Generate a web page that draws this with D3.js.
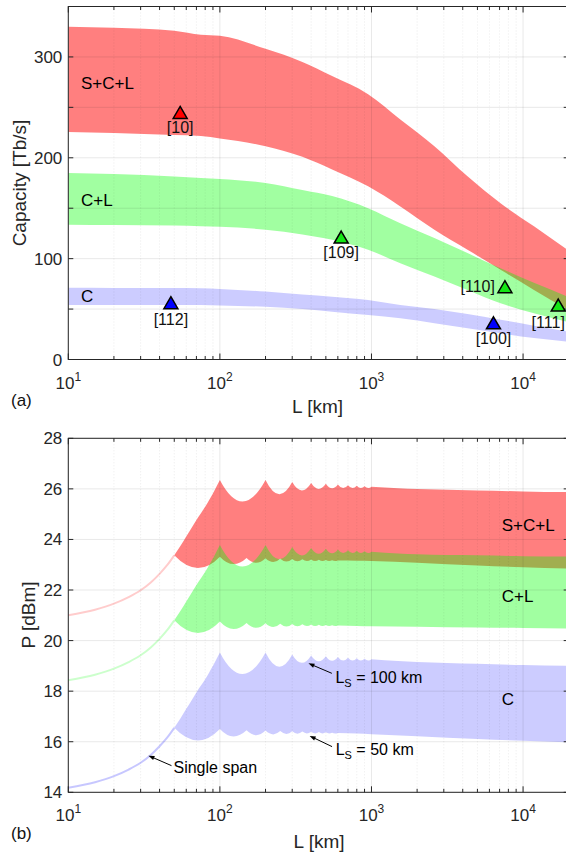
<!DOCTYPE html>
<html><head><meta charset="utf-8">
<script src="https://cdn.jsdelivr.net/npm/d3@7"></script>
<style>body{margin:0;background:#fff}svg{display:block;font-family:"Liberation Sans",Arial,Helvetica,sans-serif}</style>
</head><body><svg id="c" width="566" height="852"></svg>
<script>
// ---------- DATA: panel (a) capacity bands ----------
const capL      = [10,20,50,75,100,200,350,550,950,1550,2600,4300,7100,11800,20000];
const capSCL_hi = [330,329,326,322,321,308,295,281,263,238,211.5,181.7,155,132,108];
const capSCL_lo = [225.5,224.5,222.5,221.5,219,211.5,201,188.4,171.7,151.8,128.7,108.8,89,69,49];
const capCL_hi  = [185,184,181.5,180,179,175,168,162,150,135,120.4,105.5,90.5,76,62];
const capCL_lo  = [133.6,133.3,132.8,132,131.5,128.7,124,118.7,108.8,95.5,82.2,69,55.7,45.8,37];
const capC_hi   = [71.2,71,70.8,70.6,70,67.3,64.5,62.3,59,54,50,45,39.5,33.5,27.5];
const capC_lo   = [54,54,54,54,53.5,52.3,50,47.4,44,40.8,36,31,26,21.3,17.5];
// reference points
const refLabels = ["[10]","[112]","[109]","[110]","[100]","[111]"];
const refBand   = ["SCL","C","CL","CL","C","CL"];
const refL      = [54.7,47.5,631,7590,6380,17060];
const refCap    = [245,56.3,121.4,72.2,36.4,54];

// ---------- DATA: panel (b) power bands ----------
const ssL   = [10,15,20,25,30,35,40,45,50,55,60,65,70,75,80,85,90,95,100];
const ssSCL = [21.0,21.22,21.46,21.72,21.99,22.3,22.64,22.99,23.37,23.75,24.12,24.45,24.77,25.04,25.29,25.56,25.82,26.09,26.35];
const ssCL  = [18.43,18.65,18.89,19.15,19.42,19.73,20.07,20.42,20.8,21.18,21.55,21.88,22.2,22.47,22.72,22.99,23.25,23.52,23.78];
const ssC   = [14.18,14.4,14.64,14.9,15.17,15.48,15.82,16.17,16.55,16.93,17.3,17.63,17.95,18.22,18.47,18.74,19.0,19.27,19.53];
// upper edge, LS = 100 km (c = cusp, d = dip, s = smooth)
const upL    = [141,200,245,300,346,400,447,500,548,600,648,700,748,800,849,900,949,1000,1500,2000,5000,10000,20000];
const upKind = ["d","c","d","c","d","c","d","c","d","c","d","c","d","c","d","c","d","c","s","s","s","s","s"];
const upSCL  = [25.5,26.35,25.79,26.27,25.94,26.23,26.0,26.2,26.02,26.17,26.03,26.14,26.03,26.12,26.03,26.1,26.03,26.08,26.02,25.99,25.94,25.9,25.87];
const upCL   = [22.93,23.78,23.22,23.7,23.37,23.66,23.43,23.63,23.45,23.6,23.46,23.57,23.46,23.55,23.46,23.53,23.46,23.51,23.44,23.41,23.37,23.34,23.32];
const upC    = [18.68,19.53,18.97,19.45,19.12,19.41,19.18,19.38,19.2,19.35,19.21,19.32,19.21,19.3,19.21,19.28,19.21,19.26,19.19,19.15,19.08,19.03,19.0];
// lower edge, LS = 50 km
const loL    = [50,71,100,122,150,173,200,224,250,274,300,324,350,374,400,424,450,474,500,524,550,574,600,800,1000,2000,5000,10000,20000];
const loKind = ["s","d","c","d","c","d","c","d","c","d","c","d","c","d","c","d","c","d","c","d","c","d","c","s","s","s","s","s","s"];
const loSCL  = [23.37,22.87,23.32,23.03,23.27,23.08,23.26,23.11,23.24,23.13,23.23,23.14,23.22,23.15,23.21,23.15,23.2,23.15,23.19,23.15,23.18,23.15,23.17,23.16,23.15,23.08,22.97,22.9,22.85];
const loCL   = [20.8,20.3,20.75,20.46,20.7,20.51,20.69,20.54,20.67,20.56,20.66,20.57,20.65,20.58,20.64,20.58,20.63,20.58,20.62,20.58,20.61,20.58,20.6,20.58,20.57,20.55,20.52,20.5,20.48];
const loC    = [16.55,16.05,16.5,16.21,16.45,16.26,16.44,16.29,16.42,16.31,16.41,16.32,16.4,16.33,16.39,16.33,16.38,16.33,16.37,16.33,16.36,16.33,16.35,16.33,16.3,16.22,16.11,16.04,15.98];

// ---------- axes ticks ----------
const xDecadeExp = [1,2,3,4];
const capTickVals = [0,50,100,150,200,250,300,350];
const capTickLabels = [0,100,200,300];
const powTickVals = [14,16,18,20,22,24,26,28];

// ---------- STYLE / LAYOUT ----------
const FILL = {SCL:"#ff0000", CL:"#00ff00", C:"#0000ff"};
const FOP  = {SCL:0.5, CL:0.37, C:0.2};
const MARK = {SCL:"#ff0000", CL:"#14e614", C:"#0000ff"};
const TXT = "#262626";
const refLayout = {
  "[10]":{dx:0,dy:21,a:"middle"}, "[112]":{dx:0,dy:22,a:"middle"}, "[109]":{dx:0,dy:21,a:"middle"},
  "[110]":{dx:-10,dy:5,a:"end"}, "[100]":{dx:0,dy:21.5,a:"middle"}, "[111]":{dx:-10,dy:22.5,a:"middle"}
};

const svg = d3.select("#c");
const x = d3.scaleLog().domain([10,2e4]).range([68.3,568.7]);
const yA = d3.scaleLinear().domain([0,350]).range([359.5,6.5]);
const yB = d3.scaleLinear().domain([14,28]).range([792.3,438.3]);

const minorL = [];
[10,100,1000,10000].forEach(d=>{for(let m=2;m<=9;m++){const v=d*m; if(v<2e4) minorL.push(v);}});
const majorL = xDecadeExp.map(e=>Math.pow(10,e));

function clip(id,y){
  svg.append("clipPath").attr("id",id).append("rect")
    .attr("x",x(10)).attr("y",y.range()[1]).attr("width",x(2e4)-x(10)).attr("height",y.range()[0]-y.range()[1]);
}
clip("ca",yA); clip("cb",yB);

function gridAndAxes(y, tickVals, labelVals, labelFmt){
  const x0=x(10), x1=x(2e4), y0=y.range()[0], y1=y.range()[1];
  const g = svg.append("g");
  minorL.forEach(v=>g.append("line").attr("x1",x(v)).attr("x2",x(v)).attr("y1",y1).attr("y2",y0)
    .attr("stroke","#262626").attr("stroke-opacity",0.09).attr("stroke-dasharray","1,2").attr("stroke-width",1));
  majorL.forEach(v=>g.append("line").attr("x1",x(v)).attr("x2",x(v)).attr("y1",y1).attr("y2",y0)
    .attr("stroke","#262626").attr("stroke-opacity",0.1).attr("stroke-width",1));
  tickVals.forEach(v=>g.append("line").attr("x1",x0).attr("x2",x1).attr("y1",y(v)).attr("y2",y(v))
    .attr("stroke","#262626").attr("stroke-opacity",0.1).attr("stroke-width",1));
  g.append("rect").attr("x",x0).attr("y",y1).attr("width",x1-x0).attr("height",y0-y1)
    .attr("fill","none").attr("stroke",TXT).attr("stroke-width",1);
  majorL.forEach(v=>{
    g.append("line").attr("x1",x(v)).attr("x2",x(v)).attr("y1",y0).attr("y2",y0-6).attr("stroke",TXT);
    g.append("line").attr("x1",x(v)).attr("x2",x(v)).attr("y1",y1).attr("y2",y1+6).attr("stroke",TXT);
  });
  minorL.forEach(v=>{
    g.append("line").attr("x1",x(v)).attr("x2",x(v)).attr("y1",y0).attr("y2",y0-3.5).attr("stroke",TXT);
    g.append("line").attr("x1",x(v)).attr("x2",x(v)).attr("y1",y1).attr("y2",y1+3.5).attr("stroke",TXT);
  });
  tickVals.forEach(v=>{
    g.append("line").attr("x1",x0).attr("x2",x0+5).attr("y1",y(v)).attr("y2",y(v)).attr("stroke",TXT);
    g.append("line").attr("x1",x1).attr("x2",x1-5).attr("y1",y(v)).attr("y2",y(v)).attr("stroke",TXT);
  });
  labelVals.forEach(v=>g.append("text").attr("x",x0-6).attr("y",y(v)+6).attr("text-anchor","end")
    .attr("font-size",17).attr("fill",TXT).text(labelFmt(v)));
  xDecadeExp.forEach(e=>{
    const t=g.append("text").attr("x",x(Math.pow(10,e))).attr("y",y0+29).attr("text-anchor","middle")
      .attr("font-size",17).attr("fill",TXT);
    t.append("tspan").text("10");
    t.append("tspan").attr("dy",-8).attr("font-size",12).text(e);
  });
}

// ---------- PANEL (a) ----------
const gA = svg.append("g").attr("clip-path","url(#ca)");
const areaA = d3.area().curve(d3.curveMonotoneX).x(d=>x(d[0])).y0(d=>yA(d[1])).y1(d=>yA(d[2]));
[["SCL",capSCL_lo,capSCL_hi],["CL",capCL_lo,capCL_hi],["C",capC_lo,capC_hi]].forEach(([k,lo,hi])=>{
  gA.append("path").attr("d",areaA(capL.map((L,i)=>[L,lo[i],hi[i]])))
    .attr("fill",FILL[k]).attr("fill-opacity",FOP[k]);
});
gridAndAxes(yA, capTickVals, capTickLabels, v=>String(v));

svg.append("text").attr("x",81).attr("y",89).attr("font-size",17).text("S+C+L");
svg.append("text").attr("x",81).attr("y",206).attr("font-size",17).text("C+L");
svg.append("text").attr("x",81).attr("y",302).attr("font-size",17).text("C");

refLabels.forEach((lab,i)=>{
  const px=x(refL[i]), py=yA(refCap[i]);
  svg.append("path").attr("d",`M${px},${py-6}L${px+7},${py+6}L${px-7},${py+6}Z`)
    .attr("fill",MARK[refBand[i]]).attr("stroke","#000").attr("stroke-width",1.5).attr("stroke-linejoin","miter");
  const lay=refLayout[lab];
  svg.append("text").attr("x",px+lay.dx).attr("y",py+lay.dy).attr("text-anchor",lay.a)
    .attr("font-size",16).attr("fill","#111").text(lab);
});

svg.append("text").attr("transform","translate(19.5,183) rotate(-90)").attr("text-anchor","middle")
  .attr("dy","0.35em").attr("font-size",19).attr("fill",TXT).text("Capacity [Tb/s]");
svg.append("text").attr("x",317.5).attr("y",413).attr("text-anchor","middle").attr("font-size",19).attr("fill",TXT).text("L [km]");
svg.append("text").attr("x",11).attr("y",406).attr("font-size",17).attr("fill","#111").text("(a)");

// ---------- PANEL (b) ----------
const gB = svg.append("g").attr("clip-path","url(#cb)");
const lineGen = d3.line().curve(d3.curveMonotoneX);
function trace(ctx, pts){
  const proxy = {moveTo:(a,b)=>ctx.lineTo(a,b), lineTo:(a,b)=>ctx.lineTo(a,b),
    bezierCurveTo:(a,b,c,d,e,f)=>ctx.bezierCurveTo(a,b,c,d,e,f), closePath:()=>{}};
  let run=[pts[0]];
  const flush=()=>{ if(run.length>1) lineGen.context(proxy)(run.map(p=>[p[0],p[1]])); };
  for(let i=1;i<pts.length;i++){
    const p=pts[i];
    if(p[2]==="d" && i+1<pts.length){
      flush();
      const A=pts[i-1], B=pts[i+1];
      ctx.quadraticCurveTo(2*p[0]-(A[0]+B[0])/2, 2*p[1]-(A[1]+B[1])/2, B[0], B[1]);
      run=[B]; i++;
    } else run.push(p);
  }
  flush();
}
function bandPath(ss, up, lo){
  const U = [];
  ssL.forEach((L,i)=>{ if(L>=50) U.push([x(L),yB(ss[i]),"s"]); });
  upL.forEach((L,i)=>U.push([x(L),yB(up[i]),upKind[i]]));
  const Lw = loL.map((L,i)=>[x(L),yB(lo[i]),loKind[i]]).reverse();
  const p = d3.path();
  p.moveTo(U[0][0],U[0][1]);
  trace(p,U);
  p.lineTo(Lw[0][0],Lw[0][1]);
  trace(p,Lw);
  p.closePath();
  return p.toString();
}
const ssLine = d3.line().curve(d3.curveMonotoneX).x(d=>x(d[0])).y(d=>yB(d[1]));
[["SCL",ssSCL,upSCL,loSCL],["CL",ssCL,upCL,loCL],["C",ssC,upC,loC]].forEach(([k,ss,up,lo])=>{
  gB.append("path").attr("d",ssLine(ssL.map((L,i)=>[L,ss[i]]).filter(d=>d[0]<=50)))
    .attr("fill","none").attr("stroke",FILL[k]).attr("stroke-opacity",k==="C"?0.22:0.2).attr("stroke-width",2);
  gB.append("path").attr("d",bandPath(ss,up,lo)).attr("fill",FILL[k]).attr("fill-opacity",FOP[k]);
});
gridAndAxes(yB, powTickVals, powTickVals, v=>String(v));

svg.append("text").attr("x",501.7).attr("y",531).attr("font-size",17).text("S+C+L");
svg.append("text").attr("x",501.7).attr("y",602).attr("font-size",17).text("C+L");
svg.append("text").attr("x",501.7).attr("y",705).attr("font-size",17).text("C");

function arrow(tipL, tipP, tdx, tdy){
  const tx=x(tipL), ty=yB(tipP), sx=tx+tdx, sy=ty+tdy;
  const ang=Math.atan2(ty-sy, tx-sx), hl=6, hw=2.2;
  svg.append("line").attr("x1",sx).attr("y1",sy).attr("x2",tx-Math.cos(ang)*3).attr("y2",ty-Math.sin(ang)*3)
    .attr("stroke","#000").attr("stroke-width",1);
  const bx=tx-Math.cos(ang)*hl, by=ty-Math.sin(ang)*hl;
  svg.append("path").attr("d",`M${tx},${ty}L${bx-Math.sin(ang)*hw},${by+Math.cos(ang)*hw}L${bx+Math.sin(ang)*hw},${by-Math.cos(ang)*hw}Z`)
    .attr("fill","#000");
  return [tx,ty];
}
let t;
t=arrow(33.8,15.45,23,10);
svg.append("text").attr("x",t[0]+25).attr("y",t[1]+17).attr("font-size",16).text("Single span");
t=arrow(384,19.1,23.4,10);
let tt=svg.append("text").attr("x",t[0]+27).attr("y",t[1]+20).attr("font-size",16);
tt.append("tspan").text("L"); tt.append("tspan").attr("dy",4).attr("font-size",11).text("S"); tt.append("tspan").attr("dy",-4).text(" = 100 km");
t=arrow(391,16.23,22.4,10.7);
tt=svg.append("text").attr("x",t[0]+26).attr("y",t[1]+19).attr("font-size",16);
tt.append("tspan").text("L"); tt.append("tspan").attr("dy",4).attr("font-size",11).text("S"); tt.append("tspan").attr("dy",-4).text(" = 50 km");

svg.append("text").attr("transform","translate(28.5,615) rotate(-90)").attr("text-anchor","middle")
  .attr("dy","0.35em").attr("font-size",19).attr("fill",TXT).text("P [dBm]");
svg.append("text").attr("x",319).attr("y",848).attr("text-anchor","middle").attr("font-size",19).attr("fill",TXT).text("L [km]");
svg.append("text").attr("x",11).attr("y",839).attr("font-size",17).attr("fill","#111").text("(b)");
</script></body></html>
